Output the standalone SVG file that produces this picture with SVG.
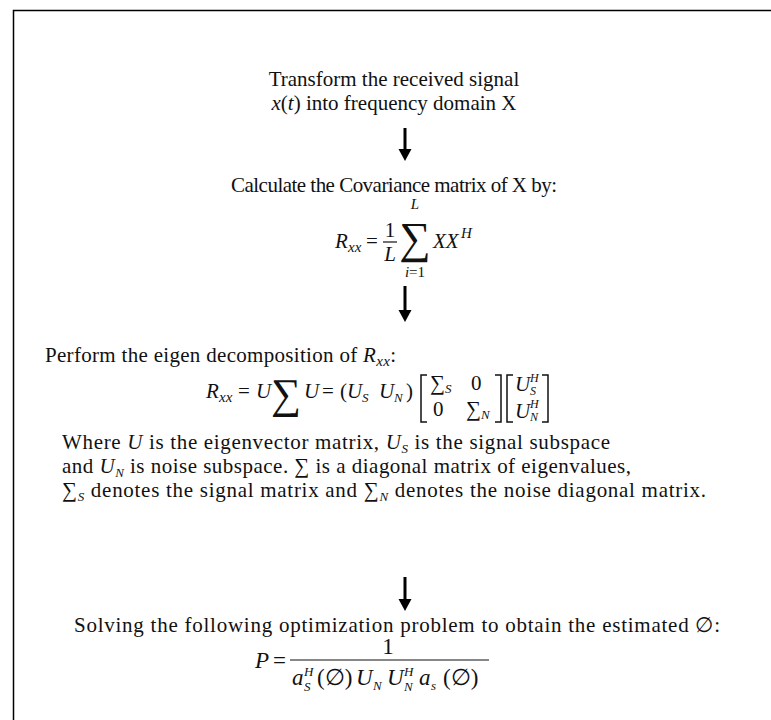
<svg xmlns="http://www.w3.org/2000/svg" width="771" height="720" viewBox="0 0 771 720">
<defs>
<style>
text{font-family:"Liberation Serif","Times New Roman",serif;font-size:21px;fill:#111}
.i{font-style:italic}
.s{font-size:13px}
.t{font-size:12px}
.m{font-size:15px}
.d{font-size:23px}
.arrow{stroke:#000;stroke-width:3;fill:none}
.head{fill:#000}
.br{stroke:#111;stroke-width:1.5;fill:none}
</style>
</defs>
<rect width="771" height="720" fill="#fff"/>
<path d="M13.5,720 V10.5 H771" stroke="#000" stroke-width="1.5" fill="none"/>

<g id="connectors">
<line class="arrow" x1="405" y1="128" x2="405" y2="150"/>
<polygon class="head" points="398.5,149 411.5,149 405,161"/>
<line class="arrow" x1="405" y1="286" x2="405" y2="311"/>
<polygon class="head" points="398.5,310 411.5,310 405,322"/>
<line class="arrow" x1="405" y1="577" x2="405" y2="600"/>
<polygon class="head" points="398.5,599 411.5,599 405,611"/>
</g>

<g id="step1">
<text x="394" y="86" text-anchor="middle">Transform the received signal</text>
<text x="394" y="110" text-anchor="middle"><tspan class="i">x</tspan>(<tspan class="i">t</tspan>) into frequency domain X</text>
</g>

<g id="step2">
<text x="394" y="192" text-anchor="middle" textLength="326">Calculate the Covariance matrix of X by:</text>
<text x="335" y="248" class="i">R</text>
<text x="348" y="252" class="i m">xx</text>
<text x="366" y="248">=</text>
<text x="390" y="237" text-anchor="middle">1</text>
<line x1="383" y1="242" x2="397" y2="242" stroke="#111" stroke-width="1.2"/>
<text x="390" y="261" text-anchor="middle" class="i">L</text>
<text x="415" y="209" text-anchor="middle" class="i m">L</text>
<text x="415" y="253" text-anchor="middle" style="font-size:44px">∑</text>
<text x="415" y="277" text-anchor="middle" class="m"><tspan class="i">i</tspan>=1</text>
<text x="433" y="248" class="i">XX</text>
<text x="461" y="238" class="i m">H</text>
</g>

<g id="step3">
<text x="45" y="362" textLength="351">Perform the eigen decomposition of <tspan class="i">R</tspan><tspan class="i m" dy="4">xx</tspan><tspan dy="-4">:</tspan></text>
<text x="206" y="398" class="i">R</text>
<text x="219" y="402" class="i m">xx</text>
<text x="238" y="398">=</text>
<text x="256" y="398" class="i">U</text>
<text x="286" y="408" text-anchor="middle" style="font-size:42px">∑</text>
<text x="304" y="398" class="i">U</text>
<text x="322" y="398">=</text>
<text x="340" y="398">(</text>
<text x="347" y="398" class="i">U</text>
<text x="362" y="402" class="i s">S</text>
<text x="379" y="398" class="i">U</text>
<text x="394" y="402" class="i s">N</text>
<text x="406" y="398">)</text>
<path class="br" d="M427,375 H421 V422 H427"/>
<text x="430" y="390">∑</text>
<text x="445" y="393" class="i s">S</text>
<text x="471" y="390">0</text>
<text x="433" y="416">0</text>
<text x="466" y="416">∑</text>
<text x="481" y="419" class="i s">N</text>
<path class="br" d="M495,375 H501 V422 H495"/>
<path class="br" d="M513,375 H507 V422 H513"/>
<text x="515" y="391" class="i">U</text>
<text x="530" y="382" class="i t">H</text>
<text x="530" y="395" class="i t">S</text>
<text x="515" y="418" class="i">U</text>
<text x="530" y="408" class="i t">H</text>
<text x="530" y="421" class="i t">N</text>
<path class="br" d="M542,375 H548 V422 H542"/>
<text x="62" y="449" textLength="548">Where <tspan class="i">U</tspan> is the eigenvector matrix, <tspan class="i">U</tspan><tspan class="i s" dy="4">S</tspan><tspan dy="-4"> is the signal subspace</tspan></text>
<text x="62" y="473" textLength="569">and <tspan class="i">U</tspan><tspan class="i s" dy="4">N</tspan><tspan dy="-4"> is noise subspace.  ∑ is a diagonal matrix of eigenvalues,</tspan></text>
<text x="62" y="497" textLength="644">∑<tspan class="i s" dy="4">S</tspan><tspan dy="-4"> denotes the signal matrix and ∑</tspan><tspan class="i s" dy="4">N</tspan><tspan dy="-4"> denotes the noise diagonal matrix.</tspan></text>
</g>

<g id="step4">
<text x="74" y="632" textLength="646">Solving the following optimization problem to obtain the estimated ∅:</text>
<text x="255" y="668" class="i d">P</text>
<text x="273" y="668" class="d">=</text>
<text x="388" y="654" class="d" text-anchor="middle">1</text>
<line x1="290" y1="660" x2="489" y2="660" stroke="#111" stroke-width="1.2"/>
<text x="292" y="685" class="i d">a</text>
<text x="304" y="676" class="i s">H</text>
<text x="304" y="691" class="i s">S</text>
<text x="317" y="685" class="d">(∅)</text>
<text x="356" y="685" class="i d">U</text>
<text x="373" y="690" class="i s">N</text>
<text x="387" y="685" class="i d">U</text>
<text x="404" y="676" class="i s">H</text>
<text x="404" y="691" class="i s">N</text>
<text x="419" y="685" class="i d">a</text>
<text x="431" y="690" class="i s">s</text>
<text x="443" y="685" class="d">(∅)</text>
</g>
</svg>
